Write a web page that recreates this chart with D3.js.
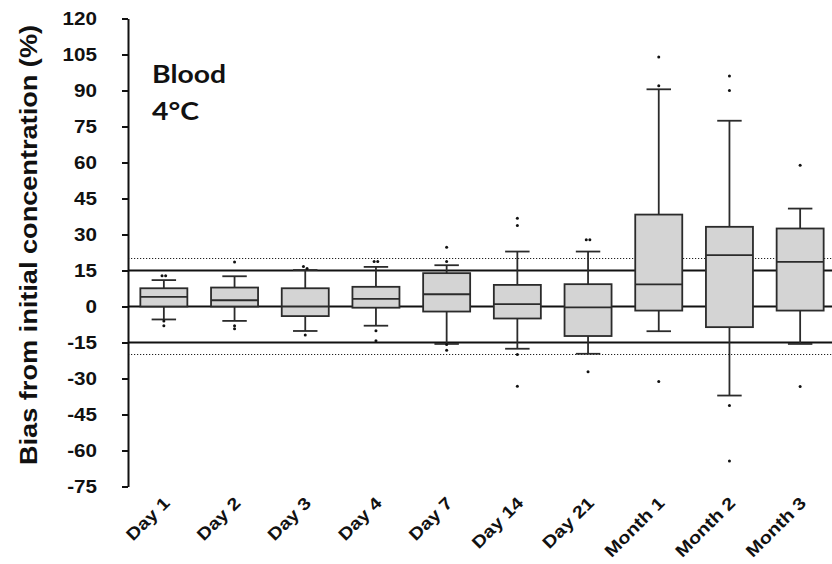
<!DOCTYPE html>
<html>
<head>
<meta charset="utf-8">
<script src="https://cdn.jsdelivr.net/npm/d3@7/dist/d3.min.js"></script>
<style>
  html, body { margin: 0; padding: 0; background: #fff; }
  svg { display: block; }
</style>
</head>
<body>
<svg id="chart" width="832" height="564"></svg>
<script>
// ---- data ----
const categories = ["Day 1","Day 2","Day 3","Day 4","Day 7","Day 14","Day 21","Month 1","Month 2","Month 3"];
const whiskerLow  = [-5.4, -6.0, -10.2, -8.0, -15.6, -17.6, -19.7, -10.3, -37.1, -15.6];
const q1          = [ 0.0,  0.0,  -4.0, -0.5,  -2.1,  -5.0, -12.3,  -1.7,  -8.6,  -1.7];
const median      = [ 4.0,  2.6,   0.0,  3.2,   5.1,   1.0,  -0.4,   9.2,  21.4,  18.6];
const q3          = [ 7.6,  7.9,   7.6,  8.2,  13.9,   9.0,   9.3,  38.3,  33.2,  32.5];
const whiskerHigh = [11.0, 12.6,  15.2, 16.5,  17.2,  22.9,  22.9,  90.5,  77.4,  40.8];
const outliers = [
  [12.8, 12.8, -6.0, -8.0],
  [18.5, -8.0, -9.3],
  [16.7, 15.8, -11.9],
  [18.7, 18.7, -10.1, -14.3],
  [24.7, 18.7, -15.8, -18.2],
  [36.8, 33.7, -20.0, -33.2],
  [27.8, 27.8, -27.2],
  [104.0, 92.0, -31.2],
  [96.0, 90.0, -41.2, -64.4],
  [58.9, -33.3]
];
const yTicks = d3.range(-75, 121, 15);
const solidRefs = [15, 0, -15];
const dottedRefs = [20, -20];
const panelTitle = ["Blood", "4°C"];
const yTitle = "Bias from initial concentration (%)";

// ---- layout ----
const svg = d3.select("#chart");
const W = 832, H = 564;
const axisX = 128;
const y = d3.scaleLinear().domain([-75, 120]).range([486.5, 18.5]);
const x = d3.scaleBand().domain(categories).range([128.5, 835.5]).padding(0);
const boxW = x.bandwidth() * 0.665;
const capW = boxW * 0.52;
const cx = c => x(c) + x.bandwidth() / 2;
const STRETCH = 1.18;
const FONT = "'Liberation Sans', Arial, sans-serif";

svg.append("rect").attr("width", W).attr("height", H).attr("fill", "#fff");

// reference lines
svg.append("g").selectAll("line").data(dottedRefs).join("line")
  .attr("x1", axisX).attr("x2", W)
  .attr("y1", d => y(d)).attr("y2", d => y(d))
  .attr("stroke", "#222").attr("stroke-width", 1.1)
  .attr("stroke-dasharray", "1.2,1.8");
svg.append("g").selectAll("line").data(solidRefs).join("line")
  .attr("x1", axisX).attr("x2", W)
  .attr("y1", d => y(d)).attr("y2", d => y(d))
  .attr("stroke", "#111").attr("stroke-width", 2);

// boxes
const stroke = "#2b2b2b";
const g = svg.append("g");
categories.forEach((c, i) => {
  const xc = cx(c);
  g.append("line").attr("x1", xc).attr("x2", xc)
    .attr("y1", y(q3[i])).attr("y2", y(whiskerHigh[i]))
    .attr("stroke", stroke).attr("stroke-width", 1.8);
  g.append("line").attr("x1", xc).attr("x2", xc)
    .attr("y1", y(q1[i])).attr("y2", y(whiskerLow[i]))
    .attr("stroke", stroke).attr("stroke-width", 1.8);
  [whiskerHigh[i], whiskerLow[i]].forEach(v => {
    g.append("line").attr("x1", xc - capW / 2).attr("x2", xc + capW / 2)
      .attr("y1", y(v)).attr("y2", y(v))
      .attr("stroke", stroke).attr("stroke-width", 1.8);
  });
  g.append("rect")
    .attr("x", xc - boxW / 2).attr("width", boxW)
    .attr("y", y(q3[i])).attr("height", y(q1[i]) - y(q3[i]))
    .attr("fill", "#d4d4d4").attr("stroke", stroke).attr("stroke-width", 1.8);
  g.append("line").attr("x1", xc - boxW / 2).attr("x2", xc + boxW / 2)
    .attr("y1", y(median[i])).attr("y2", y(median[i]))
    .attr("stroke", stroke).attr("stroke-width", 1.8);
  const vals = outliers[i];
  vals.forEach((v, j) => {
    let dx = 0;
    const near = vals.findIndex((w, k) => k !== j && Math.abs(w - v) < 1.2);
    if (near >= 0) dx = j < near ? -1.8 : 1.8;
    g.append("circle").attr("cx", xc + dx).attr("cy", y(v)).attr("r", 1.5).attr("fill", "#111");
  });
});

// y axis
const yAxis = d3.axisLeft(y).tickValues(yTicks).tickSize(6).tickSizeOuter(0)
  .tickFormat(d => String(d));
const ax = svg.append("g").attr("transform", `translate(${axisX},0)`).call(yAxis);
ax.select(".domain").attr("stroke", "#111").attr("stroke-width", 2);
ax.selectAll(".tick line").attr("stroke", "#111").attr("stroke-width", 2);
ax.selectAll(".tick text")
  .attr("x", -31 / STRETCH)
  .attr("transform", `scale(${STRETCH},1)`)
  .attr("fill", "#111")
  .style("font-family", FONT)
  .style("font-weight", "bold")
  .style("font-size", "17.5px");

// x labels
svg.append("g").selectAll("text").data(categories).join("text")
  .attr("transform", d => `translate(${cx(d) + 7},504) rotate(-45) scale(${STRETCH},1)`)
  .attr("text-anchor", "end")
  .attr("fill", "#111")
  .style("font-family", FONT)
  .style("font-weight", "bold")
  .style("font-size", "17px")
  .text(d => d);

// y title
svg.append("text")
  .attr("transform", `translate(37,245) rotate(-90) scale(${STRETCH},1)`)
  .attr("text-anchor", "middle")
  .attr("fill", "#111")
  .style("font-family", FONT)
  .style("font-weight", "bold")
  .style("font-size", "23px")
  .text(yTitle);

// panel title
svg.append("g").selectAll("text").data(panelTitle).join("text")
  .attr("transform", (d, i) => `translate(152,${83 + i * 37}) scale(${STRETCH},1)`)
  .attr("fill", "#111")
  .style("font-family", "Lato, 'Open Sans', sans-serif")
  .style("font-weight", "bold")
  .style("font-size", "24px")
  .text(d => d);
</script>
</body>
</html>
